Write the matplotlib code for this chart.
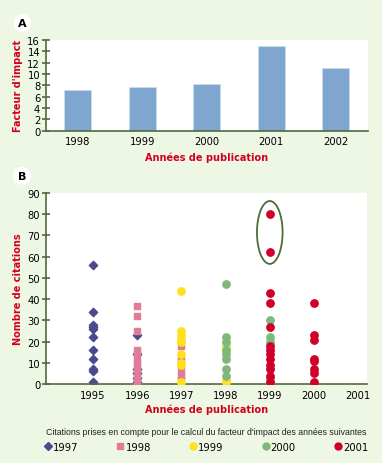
import numpy as np
import matplotlib
matplotlib.use("Agg")
import matplotlib.pyplot as plt
from matplotlib.patches import Ellipse
from matplotlib.lines import Line2D

# --- panel A : facteur d'impact
years_a = ['1998', '1999', '2000', '2001', '2002']
impact = [7.2, 7.7, 8.3, 15.0, 11.0]

# --- panel B : nombre de citations par annee de publication
cit_1997_x = [1995]*11 + [1996]*6
cit_1997_y = [56, 34, 28, 27, 26, 22, 16, 12, 7, 6, 1,
              23, 14, 7, 5, 3, 1]
cit_1998_x = [1996]*12 + [1997]*7
cit_1998_y = [37, 32, 25, 16, 14, 12, 10, 8, 5, 3, 1, 0,
              21, 18, 12, 9, 6, 4, 2]
cit_1999_x = [1997]*9 + [1998]*4
cit_1999_y = [44, 25, 23, 21, 20, 14, 10, 9, 1,
              18, 16, 2, 1]
cit_2000_x = [1998]*8 + [1999]*5
cit_2000_y = [47, 22, 20, 16, 14, 12, 7, 4,
              30, 22, 20, 3, 1]
cit_2001_x = [1999]*13 + [2000]*8
cit_2001_y = [80, 62, 43, 38, 27, 18, 16, 14, 12, 9, 7, 4, 1,
              38, 23, 21, 12, 11, 7, 5, 1]
years_b = [1995, 1996, 1997, 1998, 1999, 2000, 2001]

bg = '#eef7e3'
spine_c = '#55683d'
red = '#d2001e'
narrow = ['Liberation Sans Narrow', 'DejaVu Sans']

fig = plt.figure(figsize=(3.82, 4.64), dpi=100, facecolor=bg)

def condense(txt):
    txt.set_family(narrow)
    txt.set_stretch('condensed')

def style(ax):
    ax.set_facecolor('white')
    for s in ['top', 'right']:
        ax.spines[s].set_visible(False)
    for s in ['left', 'bottom']:
        ax.spines[s].set_color(spine_c)
        ax.spines[s].set_linewidth(1.2)
    ax.tick_params(axis='y', direction='inout', length=6, width=1.2, color=spine_c, labelsize=8, pad=1)
    ax.tick_params(axis='x', length=0, labelsize=8, pad=4)
    for lab in ax.get_xticklabels() + ax.get_yticklabels():
        condense(lab)

# A
axA = fig.add_axes([0.1196, 0.716, 0.843, 0.196])
axA.bar(range(len(years_a)), impact, width=0.42, color='#7fa6cf', edgecolor='#c9dcee', linewidth=0.6)
axA.set_xlim(-0.5, 4.5)
axA.set_ylim(0, 16)
axA.set_yticks(range(0, 17, 2))
axA.set_xticks(range(len(years_a)))
axA.set_xticklabels(years_a)
style(axA)
axA.set_xlabel('Années de publication', color=red, fontsize=7, fontweight='bold', labelpad=4)
axA.set_ylabel("Facteur d'impact", color=red, fontsize=7, fontweight='bold', labelpad=3)

# B
axB = fig.add_axes([0.1196, 0.170, 0.840, 0.412])
ms = 22
axB.scatter(cit_1997_x, cit_1997_y, marker='D', s=18, color='#4b4a8e', zorder=2)
axB.scatter(cit_1998_x, cit_1998_y, marker='s', s=ms, color='#e07b98', zorder=3)
axB.scatter(cit_1999_x, cit_1999_y, marker='o', s=ms + 6, color='#ffe21c', zorder=4)
axB.scatter(cit_2000_x, cit_2000_y, marker='o', s=ms + 6, color='#7fb87b', zorder=5)
axB.scatter(cit_2001_x, cit_2001_y, marker='o', s=ms + 6, color='#d0002a', zorder=6)
axB.add_patch(Ellipse((1999, 71.4), 0.58, 29.6, fill=False, edgecolor='#4f6b3a', linewidth=1.3, zorder=7))
axB.set_xlim(1993.93, 2001.19)
axB.set_ylim(0, 90)
axB.set_yticks(range(0, 91, 10))
axB.set_xticks(years_b)
style(axB)
axB.set_xlabel('Années de publication', color=red, fontsize=7, fontweight='bold', labelpad=3)
axB.set_ylabel('Nombre de citations', color=red, fontsize=7, fontweight='bold', labelpad=3)

# panel letters
for lab, (x, y) in [('A', (0.059, 0.948)), ('B', (0.057, 0.619))]:
    fig.text(x, y, lab, ha='center', va='center', fontsize=8, fontweight='bold',
             bbox=dict(boxstyle='circle,pad=0.35', fc='white', ec='none'))

# legend
handles = [
    Line2D([], [], ls='', marker='D', ms=4.5, color='#4b4a8e'),
    Line2D([], [], ls='', marker='s', ms=4.5, color='#e07b98'),
    Line2D([], [], ls='', marker='o', ms=5, color='#ffe21c'),
    Line2D([], [], ls='', marker='o', ms=5, color='#7fb87b'),
    Line2D([], [], ls='', marker='o', ms=5, color='#d0002a'),
]
labels = ['1997', '1998', '1999', '2000', '2001']
leg = fig.legend(handles, labels, loc='lower left', bbox_to_anchor=(0.105, 0.015, 0.87, 0.07),
                 mode='expand', ncol=5, frameon=False, handlelength=0.6, handletextpad=0.15,
                 fontsize=8, borderaxespad=0,
                 title="Citations prises en compte pour le calcul du facteur d'impact des années suivantes",
                 title_fontsize=6.3)
for t in leg.get_texts():
    condense(t)
leg.get_title().set_color('#222222')
leg.get_title().set_family(['Liberation Sans', 'DejaVu Sans'])

fig.savefig('out.png', dpi=100, facecolor=bg)
